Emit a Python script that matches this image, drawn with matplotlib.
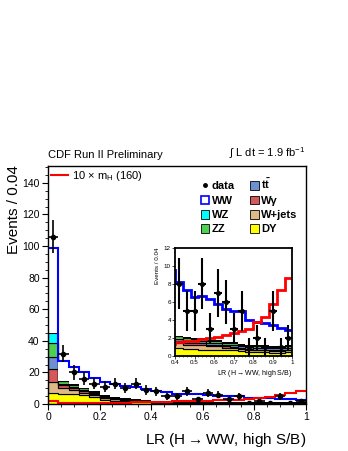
import numpy as np
import matplotlib
matplotlib.use("Agg")
import matplotlib.pyplot as plt
from matplotlib.lines import Line2D
from matplotlib.patches import Patch
from matplotlib.ticker import MultipleLocator

plt.rcParams["font.family"] = ["Liberation Sans", "DejaVu Sans"]
plt.rcParams["mathtext.fontset"] = "custom"
plt.rcParams["mathtext.rm"] = "Liberation Sans"
plt.rcParams["mathtext.it"] = "Liberation Sans"
plt.rcParams["mathtext.bf"] = "Liberation Sans:bold"

# 25 bins of width 0.04 in LR
bin_lo = 0.0
bin_hi = 1.0
n_bins = 25

# background contributions per bin (stack order: bottom -> top)
dy = [7.0, 6.6, 6.2, 5.5, 4.5, 2.5, 2.0, 1.7, 1.4, 1.2, 0.9, 0.8, 0.8,
      0.7, 0.7, 0.7, 0.6, 0.6, 0.5, 0.45, 0.4, 0.4, 0.35, 0.35, 0.4]
wjets = [7.1, 3.3, 2.7, 1.7, 1.2, 1.1, 1.0, 0.8, 0.7, 0.6, 0.5, 0.45, 0.4,
         0.5, 0.4, 0.4, 0.3, 0.3, 0.3, 0.25, 0.2, 0.2, 0.2, 0.2, 0.2]
wgamma = [8.0, 2.0, 1.4, 1.0, 0.7, 0.5, 0.4, 0.35, 0.3, 0.3, 0.2, 0.2, 0.2,
          0.2, 0.15, 0.15, 0.15, 0.1, 0.1, 0.1, 0.1, 0.1, 0.1, 0.1, 0.1]
ttbar = [8.0, 1.1, 0.7, 0.6, 0.5, 0.4, 0.4, 0.35, 0.3, 0.3, 0.3, 0.25, 0.25,
         0.25, 0.2, 0.2, 0.2, 0.2, 0.2, 0.2, 0.2, 0.2, 0.2, 0.2, 0.2]
zz = [8.4, 1.5, 1.4, 1.2, 1.0, 0.8, 0.7, 0.6, 0.5, 0.4, 0.25, 0.25, 0.2,
      0.2, 0.2, 0.2, 0.2, 0.2, 0.15, 0.15, 0.15, 0.15, 0.15, 0.15, 0.15]
wz = [6.2, 0.4, 0.3, 0.3, 0.2, 0.2, 0.2, 0.15, 0.15, 0.1, 0.1, 0.1, 0.1,
      0.1, 0.1, 0.1, 0.1, 0.1, 0.1, 0.1, 0.1, 0.1, 0.1, 0.1, 0.1]
ww = [53.8, 12.1, 10.9, 10.2, 8.4, 8.8, 8.3, 7.6, 7.3, 6.6, 5.9, 5.3, 4.6,
      4.7, 4.5, 4.0, 3.6, 3.5, 3.6, 2.7, 2.6, 2.5, 2.3, 2.0, 1.7]

# signal: 10 x Higgs (mH = 160)
signal = [1.8, 0.9, 0.8, 0.8, 0.8, 0.9, 0.9, 1.0, 1.1, 1.3, 1.5, 1.6, 1.7,
          1.9, 2.0, 2.1, 2.3, 2.5, 2.7, 3.0, 3.7, 4.3, 5.7, 7.3, 8.6]

# observed events
data = [106, 32, 20, 16, 13, 11, 13, 10, 13, 9, 8, 5, 5, 8, 3, 7, 6, 3, 5,
        1, 2, 1, 5, 1, 2]

bkg_names = ["DY", "W+jets", "W\u03b3", r"$\mathbf{t\bar{t}}$", "ZZ", "WZ"]
bkg_values = [dy, wjets, wgamma, ttbar, zz, wz]
bkg_colors = ["#ffff00", "#deb887", "#d45a5a", "#6e8fd2", "#50d050", "#00ffff"]

edges = np.linspace(bin_lo, bin_hi, n_bins + 1)
centers = 0.5 * (edges[:-1] + edges[1:])
data = np.asarray(data, dtype=float)
yerr = np.sqrt(data)


def draw_stack(ax, lw_edge, lw_line, ms, elw):
    base = np.zeros(n_bins)
    for vals, col in zip(bkg_values, bkg_colors):
        top = base + np.asarray(vals)
        ax.stairs(top, edges, baseline=base, fill=True, facecolor=col,
                  edgecolor="black", linewidth=lw_edge)
        base = top
    total = base + np.asarray(ww)
    ax.stairs(total, edges, baseline=base, fill=True, facecolor="white",
              edgecolor="none")
    ax.stairs(total, edges, baseline=None, color="#0000ff", linewidth=lw_line)
    ax.stairs(signal, edges, baseline=None, color="#ff0000", linewidth=lw_line)
    ax.errorbar(centers, data, yerr=yerr, xerr=0.02, fmt="o", color="black",
                ms=ms, elinewidth=elw, capsize=0, zorder=5)


fig = plt.figure(figsize=(3.48, 4.51), dpi=100)
ax = fig.add_axes([0.138, 0.104, 0.741, 0.529])
draw_stack(ax, 0.8, 1.5, 3.0, 1.2)
ax.set_xlim(0, 1)
ax.set_ylim(0, 151)
ax.xaxis.set_minor_locator(MultipleLocator(0.05))
ax.yaxis.set_major_locator(MultipleLocator(20))
ax.yaxis.set_minor_locator(MultipleLocator(5))
ax.set_xticks([0, 0.2, 0.4, 0.6, 0.8, 1.0])
ax.set_xticklabels(["0", "0.2", "0.4", "0.6", "0.8", "1"])
ax.tick_params(labelsize=7.5, length=4, width=0.8, pad=2)
ax.tick_params(which="minor", length=2, width=0.6)
for s in ax.spines.values():
    s.set_linewidth(1.0)
ax.set_ylabel("Events / 0.04", fontsize=11, loc="top", labelpad=1)
ax.set_xlabel(r"LR (H$\rightarrow$WW, high S/B)", fontsize=11, loc="right",
              labelpad=6)

# legends
sig_handle = Line2D([], [], color="#ff0000", lw=1.5)
leg1 = ax.legend([sig_handle], [r"10 $\times$ m$_{\rm H}$ (160)"],
                 loc="upper left", frameon=False, fontsize=8,
                 handlelength=1.5, borderaxespad=0.1, borderpad=0.2,
                 handletextpad=0.4)
ax.add_artist(leg1)

handles = [Line2D([], [], marker="o", ms=2.5, color="black", lw=0),
           Patch(facecolor="white", edgecolor="#0000ff", lw=1.2),
           Patch(facecolor=bkg_colors[5], edgecolor="black", lw=0.6),
           Patch(facecolor=bkg_colors[4], edgecolor="black", lw=0.6),
           Patch(facecolor=bkg_colors[3], edgecolor="black", lw=0.6),
           Patch(facecolor=bkg_colors[2], edgecolor="black", lw=0.6),
           Patch(facecolor=bkg_colors[1], edgecolor="black", lw=0.6),
           Patch(facecolor=bkg_colors[0], edgecolor="black", lw=0.6)]
labels = ["data", "WW", "WZ", "ZZ", bkg_names[3], bkg_names[2],
          bkg_names[1], bkg_names[0]]
ax.legend(handles, labels, ncol=2, loc="upper left",
          bbox_to_anchor=(0.57, 0.975), frameon=False, borderpad=0,
          prop={"weight": "bold", "size": 8}, handlelength=0.8,
          handleheight=0.8, handletextpad=0.2, columnspacing=1.4,
          labelspacing=0.38)

fig.text(0.138, 0.656, "CDF Run II Preliminary", fontsize=8, va="center")
fig.text(0.879, 0.660, r"$\int$ L dt = 1.9 fb$^{-1}$", fontsize=8,
         va="center", ha="right")

# inset
axi = fig.add_axes([0.503, 0.211, 0.337, 0.240])
axi.set_facecolor("white")
draw_stack(axi, 0.8, 2.0, 2.6, 1.5)
axi.set_xlim(0.4, 1.0)
axi.set_ylim(0, 12)
axi.set_xticks([0.4, 0.5, 0.6, 0.7, 0.8, 0.9, 1.0])
axi.set_xticklabels(["0.4", "0.5", "0.6", "0.7", "0.8", "0.9", "1"])
axi.set_yticks([0, 2, 4, 6, 8, 10, 12])
axi.xaxis.set_minor_locator(MultipleLocator(0.02))
axi.yaxis.set_minor_locator(MultipleLocator(0.5))
axi.tick_params(labelsize=4.5, length=2, width=0.5, pad=1)
axi.tick_params(which="minor", length=1, width=0.4)
for s in axi.spines.values():
    s.set_linewidth(1.3)
axi.set_ylabel("Events / 0.04", fontsize=4.5, loc="top", labelpad=3)
axi.set_xlabel(r"LR (H$\rightarrow$WW, high S/B)", fontsize=5, loc="right",
               labelpad=2)

fig.savefig("out.png", dpi=100)
